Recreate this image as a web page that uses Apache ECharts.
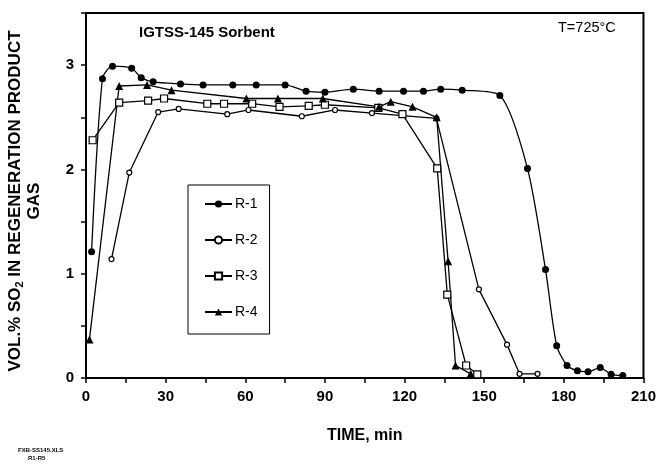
<!DOCTYPE html>
<html>
<head>
<meta charset="utf-8">
<script src="https://cdn.jsdelivr.net/npm/echarts@6/dist/echarts.min.js"></script>
<style>
  html, body { margin: 0; padding: 0; background: #fff; }
  #chart { width: 659px; height: 470px; }
</style>
</head>
<body>
<div id="chart"></div>
<script>
// SO2 concentration in regeneration product gas, IGTSS-145 sorbent, T = 725 °C
const seriesNames = ['R-1', 'R-2', 'R-3', 'R-4'];

const r1Time = [2.1, 6.2, 10.0, 17.2, 20.8, 25.3, 35.6, 44.1, 55.3, 64.1, 75.0, 82.9, 90.0, 100.7, 110.4, 119.6, 127.1, 133.6, 141.7, 155.9, 166.3, 173.1, 177.3, 181.2, 185.1, 189.1, 193.7, 197.8, 202.2];
const r1Vol  = [1.21, 2.87, 2.99, 2.97, 2.88, 2.84, 2.82, 2.81, 2.81, 2.81, 2.81, 2.75, 2.74, 2.77, 2.75, 2.75, 2.75, 2.77, 2.76, 2.71, 2.01, 1.04, 0.31, 0.12, 0.07, 0.06, 0.10, 0.035, 0.025];

const r2Time = [9.6, 16.3, 27.2, 34.9, 53.2, 61.2, 81.3, 93.8, 107.7, 132.0, 148.0, 158.6, 163.3, 170.1];
const r2Vol  = [1.14, 1.97, 2.55, 2.58, 2.53, 2.57, 2.51, 2.57, 2.54, 2.49, 0.85, 0.32, 0.04, 0.04];

const r3Time = [2.5, 12.5, 23.4, 29.4, 45.7, 52.0, 62.6, 72.9, 83.9, 90.0, 110.1, 119.2, 132.3, 136.1, 143.2, 147.4];
const r3Vol  = [2.28, 2.64, 2.66, 2.68, 2.63, 2.63, 2.63, 2.60, 2.61, 2.62, 2.59, 2.53, 2.01, 0.80, 0.12, 0.035];

const r4Time = [1.3, 12.5, 23.0, 32.2, 60.4, 72.3, 89.2, 110.4, 114.8, 123.0, 132.1, 136.4, 139.2, 144.9];
const r4Vol  = [0.37, 2.80, 2.81, 2.76, 2.68, 2.68, 2.68, 2.60, 2.65, 2.60, 2.50, 1.12, 0.12, 0.04];

const xTickStep = 15;   // minutes between ticks
const xLabelStep = 30;  // minutes between labelled ticks
const yTickStep = 0.5;

const pairs = (xs, ys) => xs.map((x, i) => [x, ys[i]]);

const FONT = '"Liberation Sans", Arial, sans-serif';

const chart = echarts.init(document.getElementById('chart'), null, { renderer: 'canvas' });

const baseLine = { color: '#000', width: 1.3 };

chart.setOption({
  backgroundColor: '#fff',
  animation: false,
  textStyle: { fontFamily: FONT, color: '#000' },
  grid: {
    left: 86, right: 11, top: 13, bottom: 92,
    show: true, borderColor: '#000', borderWidth: 2, backgroundColor: 'transparent'
  },
  legend: {
    data: seriesNames,
    orient: 'vertical',
    left: 188, top: 185,
    itemWidth: 27, itemHeight: 9, itemGap: 22,
    padding: [12, 12, 15, 16],
    borderColor: '#000', borderWidth: 1,
    backgroundColor: '#fff',
    textStyle: { fontFamily: FONT, fontSize: 14, color: '#000', padding: [0, 0, 0, -2] }
  },
  xAxis: {
    type: 'value', min: 0, max: 210, interval: xTickStep,
    axisLine: { lineStyle: { color: '#000', width: 2 } },
    axisTick: { show: true, inside: false, length: 5, lineStyle: { color: '#000', width: 1.5 } },
    axisLabel: {
      margin: 11, fontSize: 15, fontWeight: 'bold', color: '#000', fontFamily: FONT,
      formatter: v => (v % xLabelStep === 0 ? String(v) : '')
    },
    splitLine: { show: false },
    name: 'TIME, min', nameLocation: 'middle', nameGap: 50,
    nameTextStyle: { fontSize: 16, fontWeight: 'bold', color: '#000', fontFamily: FONT }
  },
  yAxis: {
    type: 'value', min: 0, max: 3.5, interval: yTickStep,
    axisLine: { lineStyle: { color: '#000', width: 2 } },
    axisTick: { show: true, inside: false, length: 5, lineStyle: { color: '#000', width: 1.5 } },
    axisLabel: {
      margin: 12, fontSize: 15, fontWeight: 'bold', color: '#000', fontFamily: FONT,
      formatter: v => (Number.isInteger(v) ? String(v) : '')
    },
    splitLine: { show: false }
  },
  graphic: [
    {
      type: 'text', left: 139, top: 25,
      style: { text: 'IGTSS-145 Sorbent', font: 'bold 15px ' + FONT, fill: '#000' }
    },
    {
      type: 'text', left: 558, top: 20,
      style: { text: 'T=725°C', font: '14.5px ' + FONT, fill: '#000' }
    },
    {
      type: 'text', x: 25, y: 201, rotation: Math.PI / 2,
      style: {
        text: '{a|VOL.% SO}{s|2}{a| IN REGENERATION PRODUCT}\n{a|GAS}',
        align: 'center', verticalAlign: 'middle',
        rich: {
          a: { font: 'bold 17px ' + FONT, fill: '#000', lineHeight: 19 },
          s: { font: 'bold 11px ' + FONT, fill: '#000', lineHeight: 19, verticalAlign: 'bottom', padding: [7, 0, 0, 0] }
        }
      }
    },
    {
      type: 'text', left: 18, top: 447,
      style: { text: 'FXB-SS145.XLS', font: 'bold 6px ' + FONT, fill: '#000' }
    },
    {
      type: 'text', left: 28, top: 455,
      style: { text: 'R1-R5', font: 'bold 6px ' + FONT, fill: '#000' }
    }
  ],
  series: [
    {
      name: 'R-1', type: 'line', data: pairs(r1Time, r1Vol),
      smooth: 0.25,
      symbol: 'circle', symbolSize: 7,
      lineStyle: baseLine,
      itemStyle: { color: '#000', borderColor: '#000', borderWidth: 0 }
    },
    {
      name: 'R-2', type: 'line', data: pairs(r2Time, r2Vol),
      symbol: 'circle', symbolSize: 5,
      lineStyle: baseLine,
      itemStyle: { color: '#fff', borderColor: '#000', borderWidth: 1.2 }
    },
    {
      name: 'R-3', type: 'line', data: pairs(r3Time, r3Vol),
      symbol: 'rect', symbolSize: 7,
      lineStyle: baseLine,
      itemStyle: { color: '#fff', borderColor: '#000', borderWidth: 1.2 }
    },
    {
      name: 'R-4', type: 'line', data: pairs(r4Time, r4Vol),
      symbol: 'triangle', symbolSize: 8,
      lineStyle: baseLine,
      itemStyle: { color: '#000', borderColor: '#000', borderWidth: 0 }
    }
  ]
});
</script>
</body>
</html>
